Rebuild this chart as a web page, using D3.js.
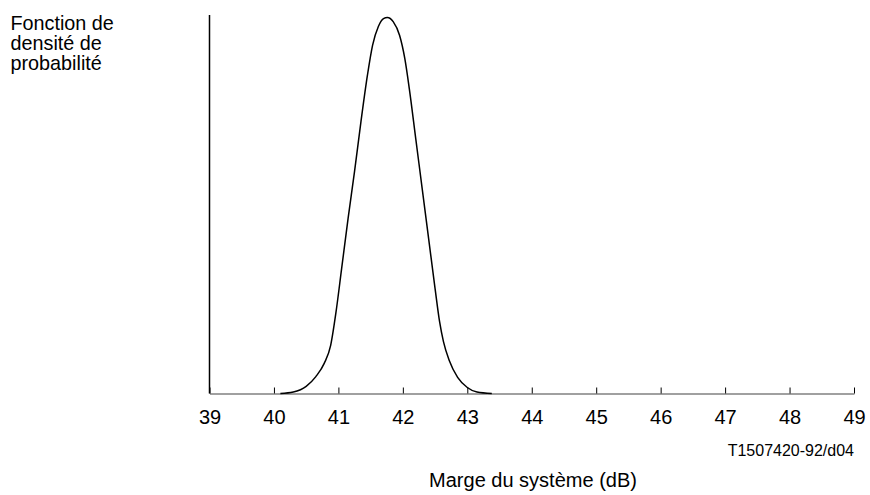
<!DOCTYPE html>
<meta charset="utf-8">
<script src="https://d3js.org/d3.v7.min.js"></script>
<style>
  body { margin: 0; background: #fff; }
  text { font-family: "Liberation Sans", Arial, sans-serif; fill: #000; }
</style>
<body>
<div id="visual"></div>
<script>

// values (density scaled so the peak is 1)
var marge = [40.10, 40.30, 40.50, 40.65, 40.78, 40.88, 40.96, 41.05, 41.15, 41.25,
             41.35, 41.45, 41.53, 41.62, 41.70, 41.76, 41.85, 41.95, 42.03, 42.10,
             42.20, 42.30, 42.40, 42.50, 42.57, 42.63, 42.72, 42.85, 43.00, 43.15, 43.38];
var densite = [0, 0.004, 0.019, 0.045, 0.080, 0.128, 0.213, 0.332, 0.465, 0.590,
               0.723, 0.846, 0.926, 0.976, 0.997, 1.0, 0.989, 0.952, 0.891, 0.811,
               0.678, 0.545, 0.412, 0.279, 0.191, 0.138, 0.088, 0.043, 0.016, 0.004, 0];
var ticks = [39, 40, 41, 42, 43, 44, 45, 46, 47, 48, 49];

var yLabel = ["Fonction de", "densité de", "probabilité"];
var xLabel = "Marge du système (dB)";
var ref = "T1507420-92/d04";

var width = 870, height = 495;

var svg = d3.select("#visual")
  .append("svg")
    .attr("width", width)
    .attr("height", height);

var x = d3.scaleLinear()
  .domain([39, 49])
  .range([209.5, 854]);

var y = d3.scaleLinear()
  .domain([0, 1])
  .range([393.5, 17.5]);

// x axis: gray baseline, ticks pointing up
var xAxis = svg.append("g")
  .attr("transform", "translate(0," + y(0) + ")")
  .call(d3.axisBottom(x).tickValues(ticks).tickSize(-6).tickPadding(0).tickSizeOuter(0));
xAxis.select(".domain").attr("stroke", "#808080").attr("stroke-width", 1.5);
xAxis.selectAll(".tick line").attr("stroke", "#000").attr("stroke-width", 1);
xAxis.selectAll(".tick text")
  .attr("dy", null)
  .attr("y", 30)
  .style("font-size", "20px")
  .style("font-family", "'Liberation Sans', Arial, sans-serif")
  .attr("fill", "#000");

// vertical axis line
svg.append("line")
  .attr("x1", x(39)).attr("x2", x(39))
  .attr("y1", 15).attr("y2", y(0))
  .attr("stroke", "#000")
  .attr("stroke-width", 1.5);

// the curve
var data = marge.map(function(m, i) { return { m: m, d: densite[i] }; });
svg.append("path")
  .datum(data)
  .attr("fill", "none")
  .attr("stroke", "#000")
  .attr("stroke-width", 1.5)
  .attr("d", d3.line()
    .curve(d3.curveMonotoneX)
    .x(function(d) { return x(d.m); })
    .y(function(d) { return y(d.d); }));

// y label, three lines top-left
svg.append("g").selectAll("text")
  .data(yLabel)
  .join("text")
    .attr("x", 10.5)
    .attr("y", function(d, i) { return 30 + i * 20; })
    .style("font-size", "19.8px")
    .text(function(d) { return d; });

svg.append("text")
  .attr("x", 854)
  .attr("y", 455.7)
  .attr("text-anchor", "end")
  .style("font-size", "16px")
  .text(ref);

svg.append("text")
  .attr("x", 533)
  .attr("y", 486.7)
  .attr("text-anchor", "middle")
  .style("font-size", "20px")
  .text(xLabel);

</script>
</body>
